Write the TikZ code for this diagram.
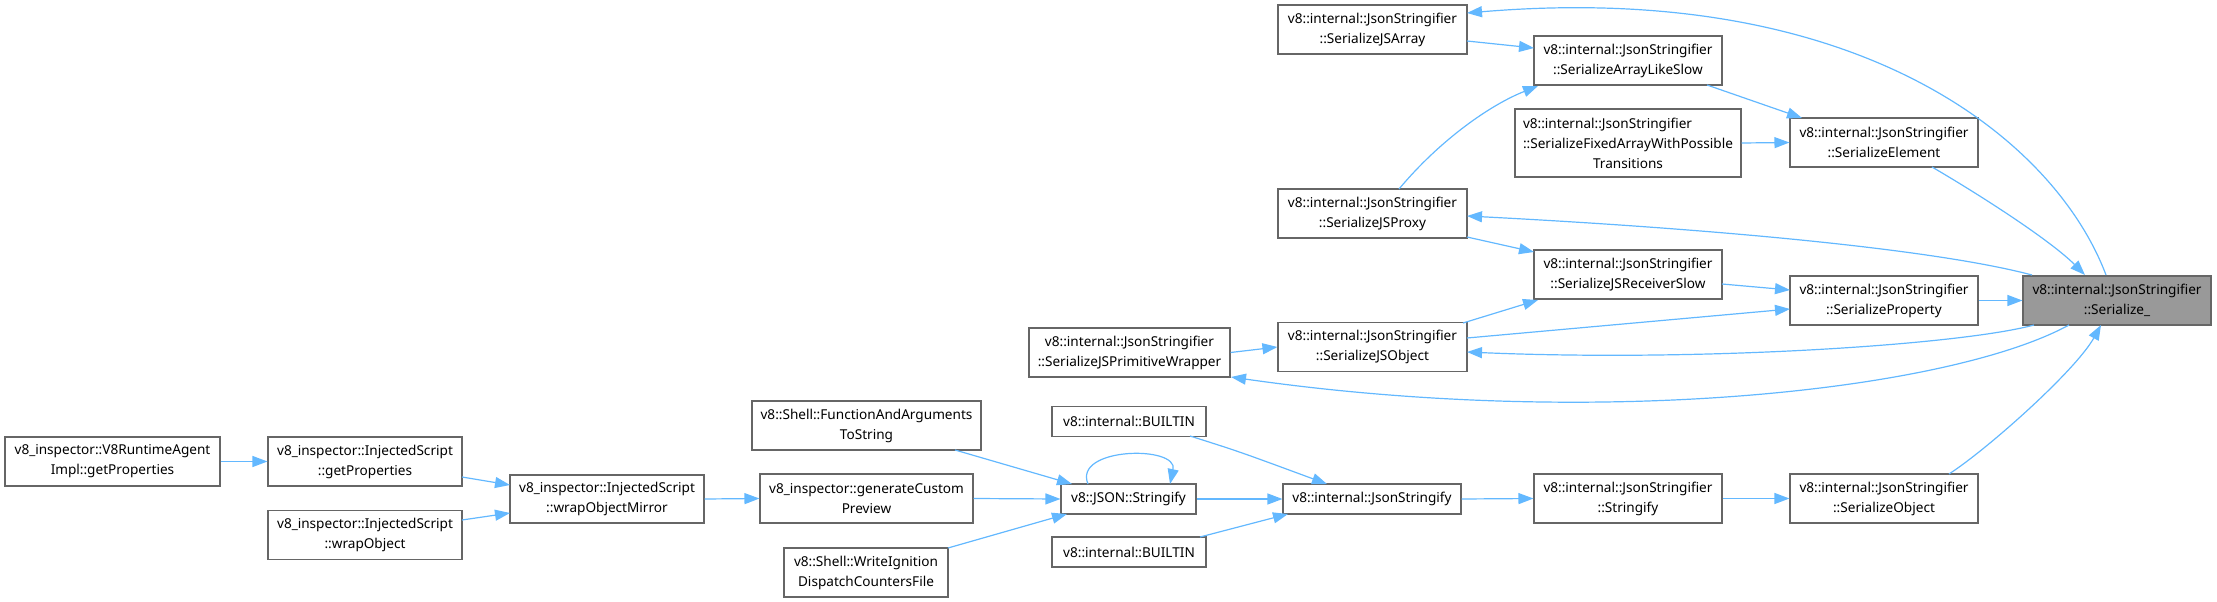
\documentclass[tikz,border=0pt]{standalone}
\usepackage{fontspec}
\setmainfont{Noto Sans}
\usepackage{calc}
\usetikzlibrary{arrows.meta,calc}
\definecolor{edgec}{HTML}{63B8FF}
\definecolor{nodeb}{HTML}{666666}
\definecolor{rootf}{HTML}{999999}
\begin{document}
\begin{tikzpicture}[x=1pt,y=-1pt,
  box/.style={draw=nodeb, line width=1.1pt, fill=white, inner sep=0pt, align=center,
    minimum height=49pt, font=\fontsize{13.6pt}{20pt}\selectfont},
  onebox/.style={box, minimum height=30pt},
  rootbox/.style={box, fill=rootf},
  edge/.style={draw=edgec, line width=1.2pt, -{Triangle[length=15pt,width=11pt]}}]
\useasboundingbox (0,0) rectangle (2217,602);

% nodes
\node[rootbox, minimum width=188pt] (ser) at (2117,300.5) {v8::internal::JsonStringifier\\::Serialize\_};
\node[box, minimum width=189pt] (jsarray) at (1372.5,29.5) {v8::internal::JsonStringifier\\::SerializeJSArray};
\node[box, minimum width=188pt] (arraylike) at (1628,60.5) {v8::internal::JsonStringifier\\::SerializeArrayLikeSlow};
\node[box, minimum width=226pt, minimum height=68pt] (fixed) at (1628,143) {\makebox[\widthof{::SerializeFixedArrayWithPossible}][l]{v8::internal::JsonStringifier}\\::SerializeFixedArrayWithPossible\\Transitions};
\node[box, minimum width=188pt] (element) at (1884,142.5) {v8::internal::JsonStringifier\\::SerializeElement};
\node[box, minimum width=189pt] (jsproxy) at (1372.5,213.5) {v8::internal::JsonStringifier\\::SerializeJSProxy};
\node[box, minimum width=188pt] (receiver) at (1628,274.5) {v8::internal::JsonStringifier\\::SerializeJSReceiverSlow};
\node[box, minimum width=188pt] (property) at (1884,300.5) {v8::internal::JsonStringifier\\::SerializeProperty};
\node[box, minimum width=189pt] (jsobject) at (1372.5,347) {v8::internal::JsonStringifier\\::SerializeJSObject};
\node[box, minimum width=201pt] (primwrap) at (1129.5,352.5) {v8::internal::JsonStringifier\\::SerializeJSPrimitiveWrapper};
\node[onebox, minimum width=154pt] (builtina) at (1129,421.5) {v8::internal::BUILTIN};
\node[onebox, minimum width=135pt] (jsonstr) at (1128.5,499) {v8::JSON::Stringify};
\node[onebox, minimum width=154pt] (builtinb) at (1129,552) {v8::internal::BUILTIN};
\node[onebox, minimum width=178pt] (intjson) at (1372,499) {v8::internal::JsonStringify};
\node[box, minimum width=188pt] (stringify) at (1628,498.5) {v8::internal::JsonStringifier\\::Stringify};
\node[box, minimum width=188pt] (serobj) at (1884,498.5) {v8::internal::JsonStringifier\\::SerializeObject};
\node[box, minimum width=229pt] (funcargs) at (866.5,425.5) {v8::Shell::FunctionAndArguments\\ToString};
\node[box, minimum width=213pt] (custom) at (866.5,498.5) {v8\_inspector::generateCustom\\Preview};
\node[box, minimum width=164pt] (ignition) at (866,572.5) {v8::Shell::WriteIgnition\\DispatchCountersFile};
\node[box, minimum width=194pt, minimum height=48pt] (mirror) at (607,499) {v8\_inspector::InjectedScript\\::wrapObjectMirror};
\node[box, minimum width=194pt] (getprop) at (365,461.5) {v8\_inspector::InjectedScript\\::getProperties};
\node[box, minimum width=194pt] (wrapobj) at (365,535) {v8\_inspector::InjectedScript\\::wrapObject};
\node[box, minimum width=215pt] (runtime) at (112.5,461.5) {v8\_inspector::V8RuntimeAgent\\Impl::getProperties};

% edges
\draw[edge] (runtime.east) -- (getprop.west);
\draw[edge] ($(getprop.center)+(97,15.5)$) -- ($(mirror.center)+(-97,-14)$);
\draw[edge] ($(wrapobj.center)+(97,-15)$) -- ($(mirror.center)+(-97,14)$);
\draw[edge] (mirror.east) -- (custom.west);
\draw[edge] (custom.east) -- (jsonstr.west);
\draw[edge] ($(funcargs.center)+(88.5,24.5)$) -- ($(jsonstr.center)+(-56.5,-15)$);
\draw[edge] ($(ignition.center)+(82,-24.5)$) -- ($(jsonstr.center)+(-61.5,15)$);
\draw[edge] ($(jsonstr.center)+(-40.5,-15)$) .. controls ($(jsonstr.center)+(-56,-52)$) and ($(jsonstr.center)+(50,-54)$) .. ($(jsonstr.center)+(41.5,-15)$);
\draw[edge] (jsonstr.east) -- (intjson.west);
\draw[edge] ($(builtina.center)+(61,14.5)$) .. controls ($(builtina.center)+(110,30)$) .. ($(intjson.center)+(-45,-15)$);
\draw[edge] ($(builtinb.center)+(71,-15)$) -- ($(intjson.center)+(-84,15)$);
\draw[edge] (intjson.east) -- (stringify.west);
\draw[edge] (stringify.east) -- (serobj.west);
\draw[edge] ($(serobj.center)+(65,-24.5)$) .. controls (1989,448) and (2076,370) .. ($(ser.center)+(-16,24.5)$);
\draw[edge] (property.east) -- (ser.west);
\draw[edge] ($(element.center)+(48,24.5)$) .. controls (1980,195) and (2050,240) .. ($(ser.center)+(-32,-25.5)$);
\draw[edge] ($(ser.center)+(-11,-25.5)$) .. controls (2055,140) and (1860,-20) .. ($(jsarray.center)+(94.5,-16.5)$);
\draw[edge] ($(ser.center)+(-85,-25.5)$) .. controls (1930,248) and (1700,228) .. ($(jsproxy.center)+(94.5,2.5)$);
\draw[edge] ($(ser.center)+(-83,24.5)$) .. controls (1960,345) and (1700,362) .. ($(jsobject.center)+(94.5,5)$);
\draw[edge] ($(ser.center)+(-48,24.5)$) .. controls (1950,390) and (1600,430) .. ($(primwrap.center)+(101.5,24.5)$);
\draw[edge] ($(jsarray.center)+(94.5,11.5)$) -- ($(arraylike.center)+(-94,-12.5)$);
\draw[edge] ($(jsproxy.center)+(26.5,-24.5)$) .. controls (1440,140) and (1490,105) .. ($(arraylike.center)+(-90,25.5)$);
\draw[edge] ($(arraylike.center)+(79,24.5)$) -- ($(element.center)+(-82,-24.5)$);
\draw[edge] (fixed.east) -- (element.west);
\draw[edge] ($(jsproxy.center)+(94.5,23.5)$) -- ($(receiver.center)+(-94,-22.5)$);
\draw[edge] ($(jsobject.center)+(90.5,-24)$) -- ($(receiver.center)+(-90,25.5)$);
\draw[edge] ($(receiver.center)+(94,9.5)$) -- ($(property.center)+(-94,-10.5)$);
\draw[edge] ($(jsobject.center)+(94.5,-9)$) -- ($(property.center)+(-94,8.5)$);
\draw[edge] (primwrap.east) -- (jsobject.west);
\end{tikzpicture}
\end{document}
